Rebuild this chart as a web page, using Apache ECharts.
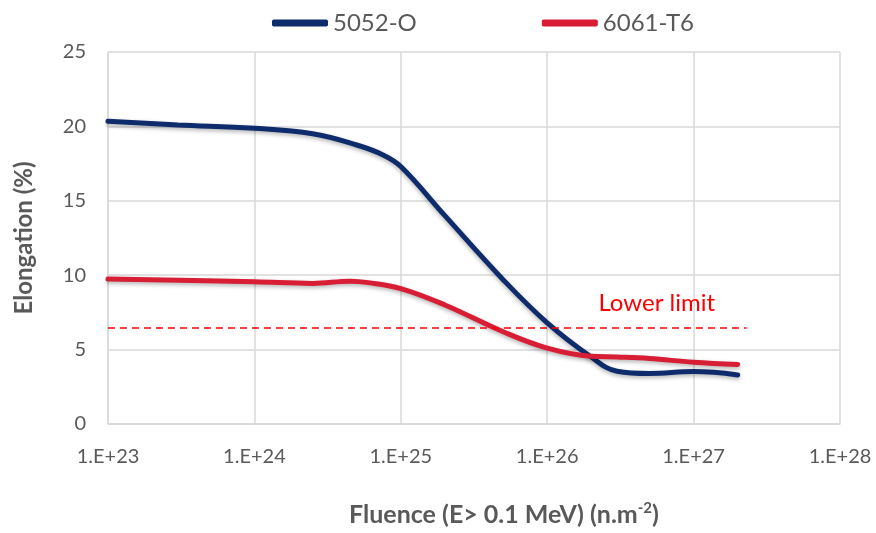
<!DOCTYPE html>
<html><head><meta charset="utf-8">
<script src="https://cdn.jsdelivr.net/npm/echarts@6/dist/echarts.min.js"></script>
<style>html,body{margin:0;padding:0;background:#fff;overflow:hidden}#c{width:876px;height:533px}</style>
</head><body><div id="c"></div>
<script>
const seriesNames = ['5052-O', '6061-T6'];
const fluence5052 = [1e23, 3e23, 1e24, 2.5e24, 5e24, 7.5e24, 1e25, 2e25, 5e25, 1e26, 2e26, 3e26, 5e26, 1e27, 2e27];
const elong5052   = [20.35, 20.1, 19.87, 19.5, 18.75, 18.1, 17.3, 14.0, 9.7, 6.8, 4.5, 3.55, 3.4, 3.52, 3.3];
const fluence6061 = [1e23, 1e24, 2.5e24, 4.5e24, 6e24, 1e25, 2e25, 5e25, 1e26, 2e26, 3e26, 5e26, 1e27, 2e27];
const elong6061   = [9.74, 9.56, 9.45, 9.6, 9.5, 9.1, 8.0, 6.2, 5.1, 4.55, 4.5, 4.4, 4.15, 4.0];
const lowerLimit = 6.5;
const lowerLimitRange = [1e23, 2.3e27];
const lowerLimitLabel = 'Lower limit';
const lowerLimitLabelPos = [5.6e26, 8.1];
const yTicks = [0, 5, 10, 15, 20, 25];

const font = 'Lato';
const grey = '#595959';
const zip = (a, b) => a.map((v, i) => [v, b[i]]);

const chart = echarts.init(document.getElementById('c'), null, { width: 876, height: 533 });
chart.setOption({
  animation: false,
  textStyle: { fontFamily: font },
  grid: { left: 108, width: 732, top: 52, height: 372 },
  legend: {
    top: 6, left: 267,
    itemWidth: 56, itemHeight: 7, itemGap: 125,
    icon: 'roundRect',
    textStyle: { fontSize: 24, color: grey, fontFamily: font },
    data: seriesNames
  },
  xAxis: {
    type: 'log', logBase: 10, min: 1e23, max: 1e28,
    axisLine: { show: true, lineStyle: { color: '#d9d9d9', width: 1.5 } },
    axisTick: { show: false },
    splitLine: { show: true, lineStyle: { color: '#d9d9d9', width: 1.5 } },
    axisLabel: { fontSize: 20, color: grey, margin: 23,
      formatter: v => '1.E+' + Math.round(Math.log10(v)) },
    name: 'Fluence (E> 0.1 MeV) (n.m{sup|-2})',
    nameLocation: 'middle', nameGap: 77,
    nameTextStyle: { fontSize: 25, fontWeight: 'bold', color: grey, padding: [0, 0, 0, 60],
      rich: { sup: { fontSize: 15, fontWeight: 'bold', color: grey, verticalAlign: 'top', padding: [0, 0, 12, 0] } } }
  },
  yAxis: {
    type: 'value', min: yTicks[0], max: yTicks[yTicks.length - 1], interval: 5,
    axisLine: { show: false }, axisTick: { show: false },
    splitLine: { lineStyle: { color: '#d9d9d9', width: 1.5 } },
    axisLabel: { fontSize: 20, color: grey, margin: 22 },
    name: 'Elongation (%)', nameLocation: 'middle', nameGap: 72,
    nameTextStyle: { fontSize: 24, fontWeight: 'bold', color: grey }
  },
  series: [
    {
      name: seriesNames[0], type: 'line', smooth: 0.4, showSymbol: false,
      data: zip(fluence5052, elong5052),
      color: '#0e2b6b',
      lineStyle: { width: 5, color: '#0e2b6b', shadowBlur: 4, shadowColor: 'rgba(0,0,0,0.3)', shadowOffsetY: 2, cap: 'round' },
      z: 3
    },
    {
      name: seriesNames[1], type: 'line', smooth: 0.4, showSymbol: false,
      data: zip(fluence6061, elong6061),
      color: '#d81e34',
      lineStyle: { width: 5, color: '#d81e34', shadowBlur: 4, shadowColor: 'rgba(0,0,0,0.3)', shadowOffsetY: 2, cap: 'round' },
      z: 4,
      markLine: {
        silent: true, symbol: ['none', 'none'],
        lineStyle: { color: '#ff0000', type: [7, 5], width: 1.5 },
        label: { show: false },
        data: [[{ coord: [lowerLimitRange[0], lowerLimit] }, { coord: [lowerLimitRange[1], lowerLimit] }]]
      },
      markPoint: {
        silent: true, symbol: 'circle', symbolSize: 0,
        label: { show: true, formatter: lowerLimitLabel, color: '#ff0000', fontSize: 24, fontFamily: font },
        data: [{ coord: lowerLimitLabelPos }]
      }
    }
  ]
});
</script></body></html>
